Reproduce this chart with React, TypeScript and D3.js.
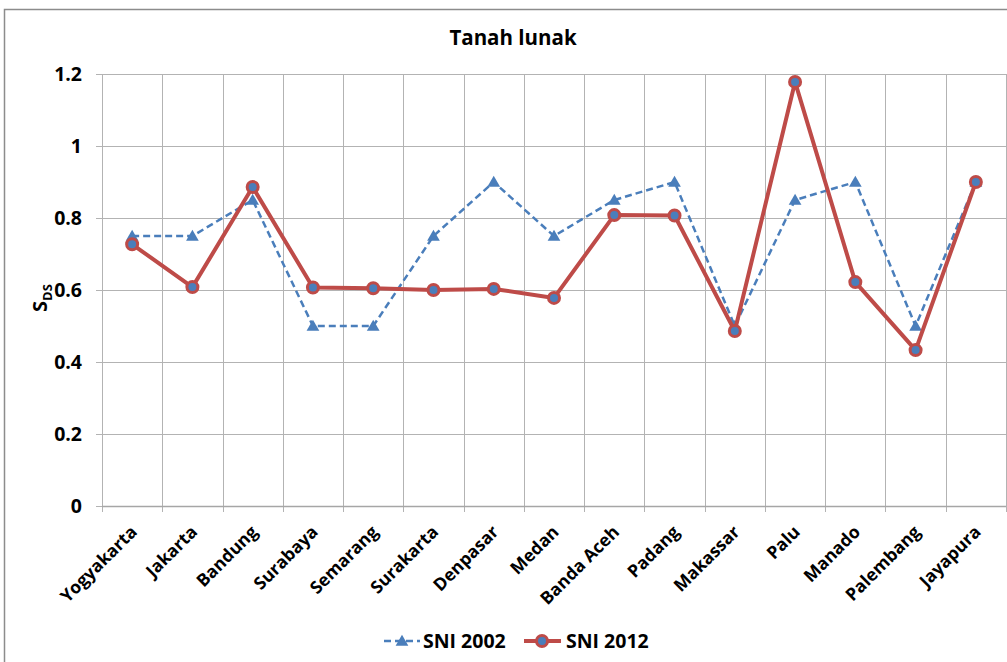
import * as d3 from 'd3'
import { useEffect, useRef } from 'react'

const width = 1007, height = 662
const margin = { top: 74, right: 1, bottom: 156, left: 102 }

const cities = [
  'Yogyakarta', 'Jakarta', 'Bandung', 'Surabaya', 'Semarang', 'Surakarta', 'Denpasar', 'Medan',
  'Banda Aceh', 'Padang', 'Makassar', 'Palu', 'Manado', 'Palembang', 'Jayapura',
]
const sni2002 = [0.75, 0.75, 0.85, 0.5, 0.5, 0.75, 0.9, 0.75, 0.85, 0.9, 0.5, 0.85, 0.9, 0.5, 0.9]
const sni2012 = [0.727, 0.608, 0.886, 0.607, 0.605, 0.6, 0.603, 0.578, 0.808, 0.807, 0.486, 1.178, 0.622, 0.433, 0.9]
const yTicks = [0, 0.2, 0.4, 0.6, 0.8, 1, 1.2]

const blue = '#4a7ebb', red = '#be4b48', grid = '#b3b3b3'
const font = '"Open Sans", Carlito, sans-serif'

const chart = (node: SVGSVGElement) => {
  const svg = d3.select(node)
  svg.selectAll('*').remove()
  svg.attr('font-family', font).attr('font-weight', 'bold')

  // outer frame, right & bottom edges fall off the picture
  svg.append('rect')
    .attr('x', 4.5).attr('y', 9.5)
    .attr('width', width + 20).attr('height', height + 20)
    .attr('fill', '#fff').attr('stroke', '#8c8c8c').attr('stroke-width', 1.5)

  const x = d3.scaleBand().domain(cities).range([margin.left, width - margin.right])
  const y = d3.scaleLinear().domain([0, 1.2]).range([height - margin.bottom, margin.top])
  const cx = (d: string) => (x(d) as number) + x.bandwidth() / 2

  const g = svg.append('g')

  // horizontal gridlines + y ticks
  g.append('g')
    .selectAll('line')
    .data(yTicks)
    .join('line')
      .attr('x1', margin.left - 6).attr('x2', width - margin.right)
      .attr('y1', d => Math.round(y(d)) + 0.5).attr('y2', d => Math.round(y(d)) + 0.5)
      .attr('stroke', grid).attr('stroke-width', 1)

  // vertical gridlines at category boundaries
  const bounds = cities.map(c => x(c) as number).concat([width - margin.right])
  g.append('g')
    .selectAll('line')
    .data(bounds)
    .join('line')
      .attr('x1', d => Math.round(d) + 0.5).attr('x2', d => Math.round(d) + 0.5)
      .attr('y1', y(1.2)).attr('y2', y(0) + 6)
      .attr('stroke', grid).attr('stroke-width', 1)

  // x axis baseline
  g.append('line')
    .attr('x1', margin.left).attr('x2', width - margin.right)
    .attr('y1', y(0) + 0.5).attr('y2', y(0) + 0.5)
    .attr('stroke', '#a6a6a6').attr('stroke-width', 1.5)

  // y tick labels
  g.append('g')
    .selectAll('text')
    .data(yTicks)
    .join('text')
      .attr('x', 82).attr('y', d => y(d))
      .attr('dy', '0.36em')
      .attr('text-anchor', 'end')
      .attr('font-size', 19.5)
      .attr('fill', '#000')
      .text(d => d3.format('')(d))

  // x labels, rotated
  g.append('g')
    .selectAll('text')
    .data(cities)
    .join('text')
      .attr('transform', d => `translate(${cx(d) + 6},${y(0) + 27}) rotate(-45)`)
      .attr('text-anchor', 'end')
      .attr('font-size', 17.5)
      .attr('fill', '#000')
      .text(d => d)

  // y axis title
  const yt = g.append('text')
    .attr('transform', `translate(47,${(y(0) + y(1.2)) / 2 + 22}) rotate(-90)`)
    .attr('font-size', 20)
    .attr('fill', '#000')
  yt.append('tspan').text('S')
  yt.append('tspan').attr('font-size', 13).attr('dy', 5).text('DS')

  // title
  svg.append('text')
    .attr('x', 513).attr('y', 45)
    .attr('text-anchor', 'middle')
    .attr('font-size', 20.5)
    .attr('fill', '#000')
    .text('Tanah lunak')

  const line = d3.line<number>()
    .x((_, i) => cx(cities[i]))
    .y(d => y(d))

  const tri = d3.symbol().type(d3.symbolTriangle).size(70)

  // SNI 2002
  g.append('path')
    .attr('d', line(sni2002))
    .attr('fill', 'none').attr('stroke', blue)
    .attr('stroke-width', 2.5).attr('stroke-dasharray', '7,4')
  g.append('g')
    .selectAll('path')
    .data(sni2002)
    .join('path')
      .attr('d', tri)
      .attr('transform', (d, i) => `translate(${cx(cities[i])},${y(d) + 1})`)
      .attr('fill', blue)

  // SNI 2012
  g.append('path')
    .attr('d', line(sni2012))
    .attr('fill', 'none').attr('stroke', red)
    .attr('stroke-width', 4).attr('stroke-linejoin', 'round')
  g.append('g')
    .selectAll('circle')
    .data(sni2012)
    .join('circle')
      .attr('cx', (_, i) => cx(cities[i])).attr('cy', d => y(d))
      .attr('r', 5.5)
      .attr('fill', blue).attr('stroke', red).attr('stroke-width', 3)

  // legend
  const lg = svg.append('g').attr('transform', 'translate(0,641)')
  lg.append('line')
    .attr('x1', 384).attr('x2', 420).attr('y1', 0).attr('y2', 0)
    .attr('stroke', blue).attr('stroke-width', 2.5).attr('stroke-dasharray', '7,4')
  lg.append('path').attr('d', tri).attr('transform', 'translate(402,1)').attr('fill', blue)
  lg.append('text').attr('x', 423).attr('y', 0).attr('dy', '0.36em')
    .attr('font-size', 19.5).attr('fill', '#000').text('SNI 2002')
  lg.append('line')
    .attr('x1', 524).attr('x2', 561).attr('y1', 0).attr('y2', 0)
    .attr('stroke', red).attr('stroke-width', 4)
  lg.append('circle').attr('cx', 542).attr('cy', 0).attr('r', 5.5)
    .attr('fill', blue).attr('stroke', red).attr('stroke-width', 3)
  lg.append('text').attr('x', 566).attr('y', 0).attr('dy', '0.36em')
    .attr('font-size', 19.5).attr('fill', '#000').text('SNI 2012')
}

export default function App() {
  const ref = useRef<SVGSVGElement>(null)
  useEffect(() => {
    if (ref.current) chart(ref.current)
  }, [])
  return (
    <svg
      ref={ref}
      width={width}
      height={height}
      style={{ position: 'absolute', left: 0, top: 0, background: '#fff' }}
    />
  )
}
